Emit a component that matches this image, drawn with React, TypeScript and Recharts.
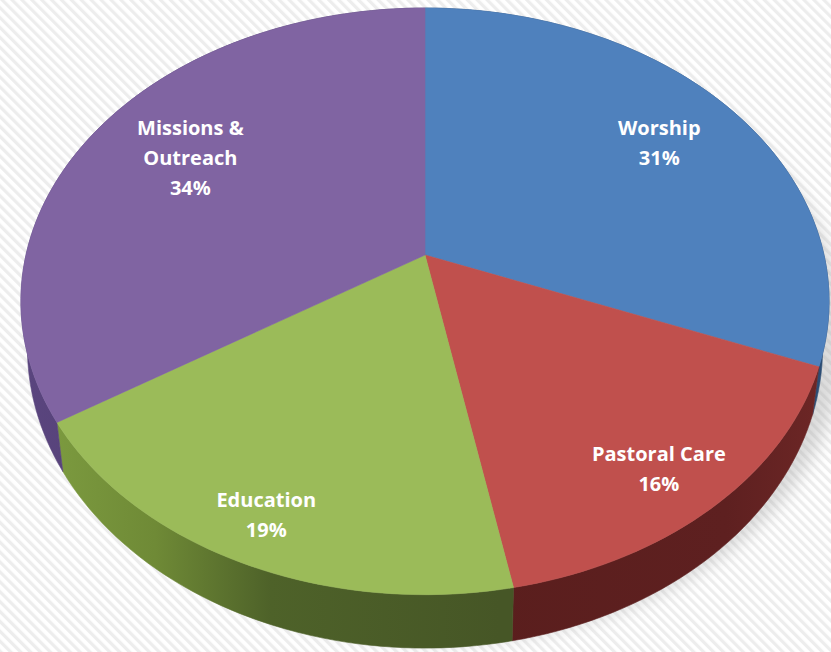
import React from 'react';
import { PieChart, Pie } from 'recharts';

const categories = ['Worship', 'Pastoral Care', 'Education', 'Missions & Outreach'];
const values = [31, 16, 19, 34];
const labelLines = [['Worship'], ['Pastoral Care'], ['Education'], ['Missions &', 'Outreach']];
const topColors = ['#4F81BD', '#C0504D', '#9BBB59', '#8064A2'];
const sideGradIds = ['sideBlue', 'sideRed', 'sideGreen', 'sidePurple'];

const data = categories.map((name, i) => ({ name, value: values[i] }));

const W = 831;
const H = 652;
const CX = 425;
const CY = 255;
const A = 399;
const B = 286;
const K = -0.158;
const DEPTH = 45;
const BOTTOM_SCALE = 0.984;
const RAD = Math.PI / 180;

function proj(cx: number, cy: number, theta: number, r: number, depth: number): [number, number] {
  const t = theta * RAD;
  const u = r * Math.cos(t);
  const v = -r * Math.sin(t);
  const d = 1 + K * v;
  const x = (A * u) / d;
  const y = (B * v) / d;
  if (depth === 0) return [cx + x, cy + y];
  return [cx + x * BOTTOM_SCALE, cy + y + depth / d];
}

function arcPoints(cx: number, cy: number, s: number, e: number, r: number, depth: number) {
  const n = Math.max(8, Math.ceil(Math.abs(e - s) / 1.5));
  const pts: [number, number][] = [];
  for (let i = 0; i <= n; i++) {
    pts.push(proj(cx, cy, s + ((e - s) * i) / n, r, depth));
  }
  return pts;
}

const fmt = (p: [number, number]) => `${p[0].toFixed(2)},${p[1].toFixed(2)}`;

const renderSide = (props: any) => {
  const { cx, cy, startAngle, endAngle, index } = props;
  const top = arcPoints(cx, cy, startAngle, endAngle, 1, 0);
  const bottom = arcPoints(cx, cy, endAngle, startAngle, 1, DEPTH);
  const d = 'M' + [...top, ...bottom].map(fmt).join('L') + 'Z';
  return (
    <path
      key={`side-${index}`}
      d={d}
      fill={`url(#${sideGradIds[index]})`}
      stroke={`url(#${sideGradIds[index]})`}
      strokeWidth={0.6}
    />
  );
};

const renderTop = (props: any) => {
  const { cx, cy, startAngle, endAngle, index, percent } = props;
  const rim = arcPoints(cx, cy, startAngle, endAngle, 1, 0);
  const d = `M${cx},${cy}L` + rim.map(fmt).join('L') + 'Z';
  const mid = (startAngle + endAngle) / 2;
  const mv = -Math.sin(mid * RAD);
  const lr = Math.min(0.865, 0.8 + 0.1 * mv);
  const [lx0, ly] = proj(cx, cy, mid, lr, 0);
  const lx = lx0 + (lx0 > cx ? -4 : 6) + (mv < 0 ? 8 : -8);
  const lines = [...labelLines[index], `${Math.round(percent * 100)}%`];
  const lh = 30;
  const y0 = ly - ((lines.length - 1) * lh) / 2;
  return (
    <g key={`top-${index}`}>
      <path d={d} fill={topColors[index]} stroke={topColors[index]} strokeWidth={0.6} />
      <text
        x={lx}
        y={y0}
        textAnchor="middle"
        fill="#ffffff"
        fontFamily="'Open Sans', sans-serif"
        fontWeight={700}
        fontSize={20}
      >
        {lines.map((l, j) => (
          <tspan key={j} x={lx} y={y0 + j * lh} dominantBaseline="central">
            {l}
          </tspan>
        ))}
      </text>
    </g>
  );
};

export default function App() {
  return (
    <div style={{ position: 'relative', width: W, height: H, overflow: 'hidden' }}>
      <style>{'body{margin:0;}'}</style>
      <svg width={W} height={H} style={{ position: 'absolute', left: 0, top: 0 }}>
        <defs>
          <pattern id="stripes" width="7" height="7" patternUnits="userSpaceOnUse" patternTransform="rotate(-45)">
            <rect width="7" height="7" fill="#ffffff" />
            <rect width="3.2" height="7" fill="#ededed" />
          </pattern>
          <filter id="blur" x="-20%" y="-20%" width="140%" height="140%">
            <feGaussianBlur stdDeviation="8" />
          </filter>
          <linearGradient id="sideBlue" gradientUnits="userSpaceOnUse" x1="0" y1="0" x2={W} y2="0">
            <stop offset="0" stopColor="#2c4d74" />
            <stop offset="1" stopColor="#2c4d74" />
          </linearGradient>
          <linearGradient id="sideRed" gradientUnits="userSpaceOnUse" x1="480" y1="0" x2={W} y2="0">
            <stop offset="0" stopColor="#5a1e1d" />
            <stop offset="0.7" stopColor="#5e2020" />
            <stop offset="1" stopColor="#6e2726" />
          </linearGradient>
          <linearGradient id="sideGreen" gradientUnits="userSpaceOnUse" x1="40" y1="0" x2="500" y2="0">
            <stop offset="0" stopColor="#7d9c40" />
            <stop offset="0.25" stopColor="#6f8a36" />
            <stop offset="0.5" stopColor="#4e6229" />
            <stop offset="1" stopColor="#465626" />
          </linearGradient>
          <linearGradient id="sidePurple" gradientUnits="userSpaceOnUse" x1="0" y1="0" x2="300" y2="0">
            <stop offset="0" stopColor="#5b4680" />
            <stop offset="1" stopColor="#4c3a6a" />
          </linearGradient>
        </defs>
        <rect x={0} y={0} width={W} height={H} fill="url(#stripes)" />
        <ellipse cx={440} cy={335} rx={405} ry={308} fill="#9a9a9a" opacity={0.35} filter="url(#blur)" />
      </svg>
      <div style={{ position: 'absolute', left: 0, top: 0 }}>
        <PieChart width={W} height={H} margin={{ top: 0, right: 0, bottom: 0, left: 0 }}>
          <Pie
            data={data}
            dataKey="value"
            nameKey="name"
            cx={CX}
            cy={CY}
            outerRadius={2}
            startAngle={90}
            endAngle={-270}
            fill="none"
            stroke="none"
            label={renderSide}
            labelLine={false}
            isAnimationActive={false}
          />
          <Pie
            data={data}
            dataKey="value"
            nameKey="name"
            cx={CX}
            cy={CY}
            outerRadius={2}
            startAngle={90}
            endAngle={-270}
            fill="none"
            stroke="none"
            label={renderTop}
            labelLine={false}
            isAnimationActive={false}
          />
        </PieChart>
      </div>
    </div>
  );
}
